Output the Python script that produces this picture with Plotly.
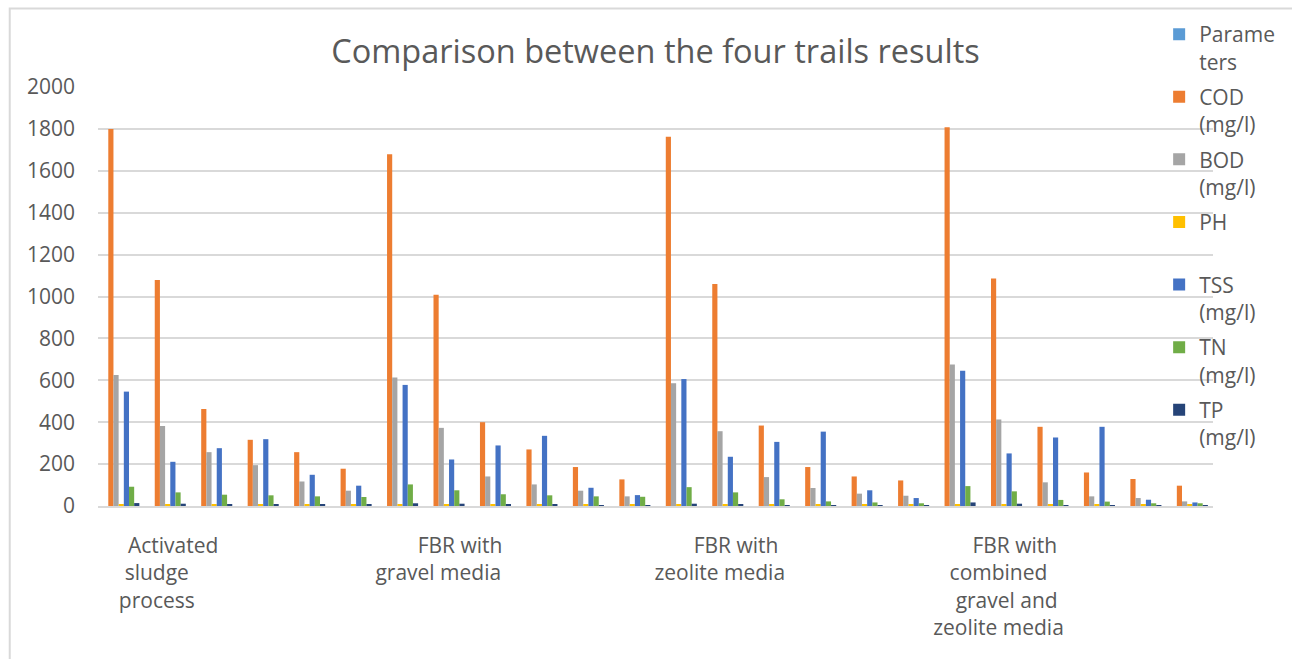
import plotly.graph_objects as go

# ---- data ----
NB = "\u00a0"
group_labels = [
    NB * 2 + "Activated<br>sludge" + NB * 4 + "<br>process" + NB * 4,
    NB * 5 + "FBR with<br>gravel media" + NB * 3,
    NB * 4 + "FBR with<br>zeolite media" + NB * 2,
    NB * 4 + "FBR with<br>combined" + NB * 2 + "<br>" + NB + "gravel and<br>zeolite media" + NB * 2,
]
label_positions = [1, 7, 13, 19]
positions = list(range(24))

parameters = [0] * 24
cod = [1800, 1079, 463, 316, 257, 178,
       1679, 1008, 400, 270, 186, 127,
       1763, 1060, 384, 186, 141, 122,
       1808, 1086, 378, 160, 129, 97]
bod = [625, 382, 257, 195, 117, 73,
       613, 373, 141, 103, 73, 46,
       586, 357, 138, 86, 59, 49,
       676, 413, 113, 46, 38, 22]
ph = [8, 7, 7, 7, 7, 7,
      8, 7, 7, 7, 7, 7,
      8, 7, 7, 7, 7, 7,
      8, 7, 7, 7, 7, 7]
tss = [546, 211, 276, 319, 149, 97,
       578, 222, 289, 335, 87, 52,
       606, 235, 306, 355, 75, 38,
       646, 251, 327, 378, 30, 17]
tn = [92, 65, 54, 51, 46, 43,
      103, 75, 56, 51, 46, 44,
      90, 65, 32, 22, 17, 13,
      95, 70, 29, 21, 13, 13]
tp = [14, 11, 8, 5, 6, 6,
      13, 11, 8, 6, 3, 3,
      11, 8, 3, 3, 2, 2,
      17, 11, 3, 3, 2, 2]

series_names = ["Parame<br>ters", "COD<br>(mg/l)", "BOD<br>(mg/l)", "PH<br>" + NB,
                "TSS<br>(mg/l)", "TN<br>(mg/l)", "TP<br>(mg/l)"]
series_values = [parameters, cod, bod, ph, tss, tn, tp]
series_colors = ["#5B9BD5", "#ED7D31", "#A5A5A5", "#FFC000", "#4472C4", "#70AD47", "#264478"]

y_ticks = list(range(0, 2001, 200))

# ---- layout geometry ----
W, H = 1292, 659
ML, MR, MT, MB = 98, 76, 87, 153
PW = W - ML - MR
PH = H - MT - MB

fig = go.Figure()
for i, (name, vals, col) in enumerate(zip(series_names, series_values, series_colors)):
    fig.add_trace(go.Bar(
        x=positions, y=vals, name=name, marker=dict(color=col, line=dict(width=0)),
        legendgroup=f"g{i}",
    ))

font_fam = "Open Sans, Lato, sans-serif"
txt_col = "#595959"

def px_to_paper_x(px):
    return (px - ML) / PW

def px_to_paper_y(py):
    return (H - MB - py) / PH

fig.update_layout(
    width=W, height=H,
    margin=dict(l=ML, r=MR, t=MT, b=MB, pad=0),
    paper_bgcolor="white", plot_bgcolor="white",
    barmode="group", bargap=0.22, bargroupgap=0,
    title=dict(text="Comparison between the four trails results",
               font=dict(family=font_fam, size=32.5, color=txt_col),
               x=0.5, xanchor="center", xref="paper",
               y=1 - 52 / H, yanchor="middle"),
    xaxis=dict(range=[-0.5, 23.5], tickmode="array", tickvals=label_positions,
               ticktext=group_labels, showgrid=False, zeroline=False,
               showline=True, linecolor="#d9d9d9", linewidth=1.5,
               ticks="outside", ticklen=0, tickcolor="rgba(0,0,0,0)",
               ticklabelstandoff=20,
               tickfont=dict(family=font_fam, size=21, color=txt_col)),
    yaxis=dict(range=[0, 2000], tickmode="array", tickvals=y_ticks,
               showgrid=True, gridcolor="#d9d9d9", gridwidth=1.5, zeroline=False,
               showline=False, ticks="", ticklabelstandoff=22,
               tickfont=dict(family=font_fam, size=21, color=txt_col)),
    legend=dict(x=px_to_paper_x(1162), xanchor="left",
                y=px_to_paper_y(14), yanchor="top",
                font=dict(family=font_fam, size=21, color=txt_col),
                bgcolor="rgba(0,0,0,0)", valign="top",
                tracegroupgap=5, traceorder="grouped", maxheight=640),
    showlegend=True,
    shapes=[dict(type="rect", xref="paper", yref="paper",
                 x0=px_to_paper_x(9.5), x1=px_to_paper_x(1300),
                 y0=px_to_paper_y(670), y1=px_to_paper_y(8.5),
                 line=dict(color="#d9d9d9", width=2), fillcolor="rgba(0,0,0,0)",
                 layer="below")],
)

fig.write_html("out.html")
